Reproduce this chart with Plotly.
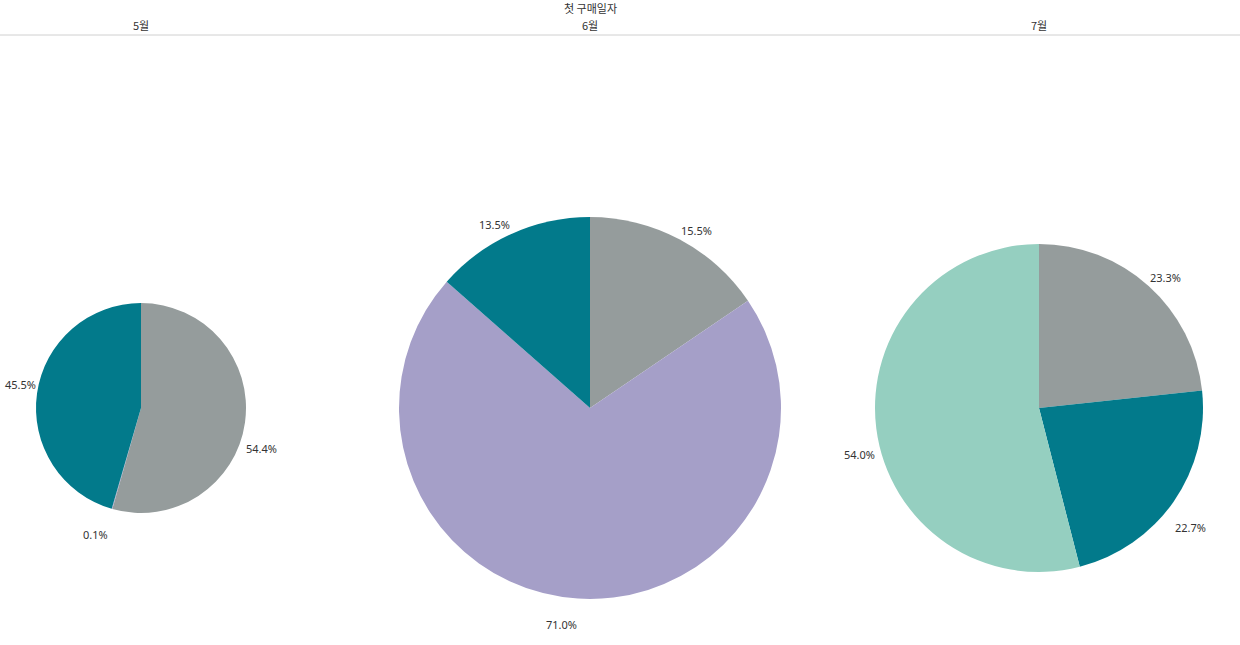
import math
import plotly.graph_objects as go

# ---- data ----
months = ["5월", "6월", "7월"]
header_title = "첫 구매일자"

may_labels = ["A", "B", "C"]
may_values = [54.4, 0.1, 45.5]
may_colors = ["#959c9c", "#a59fc8", "#027a8b"]

jun_labels = ["A", "B", "C"]
jun_values = [15.5, 71.0, 13.5]
jun_colors = ["#959c9c", "#a59fc8", "#027a8b"]

jul_labels = ["A", "B", "C"]
jul_values = [23.3, 22.7, 54.0]
jul_colors = ["#959c9c", "#027a8b", "#95cfc0"]

# ---- layout geometry (pixels) ----
W, H = 1240, 645
# (center x, center y, radius) in pixels for each pie
geoms = [(141, 408, 105), (590, 408, 191), (1039, 408, 164)]

LABEL_FONT = dict(family="Noto Sans, sans-serif", size=11, color="#333333")
HEAD_FONT = dict(family="Noto Sans CJK KR", size=11, color="#333333")


def domain(cx, cy, r):
    return dict(
        x=[(cx - r) / W, (cx + r) / W],
        y=[(H - (cy + r)) / H, (H - (cy - r)) / H],
    )


fig = go.Figure()
annotations = []
for (labels, values, colors), (cx, cy, r) in zip(
    [(may_labels, may_values, may_colors),
     (jun_labels, jun_values, jun_colors),
     (jul_labels, jul_values, jul_colors)],
    geoms,
):
    fig.add_trace(go.Pie(
        labels=labels,
        values=values,
        marker=dict(colors=colors, line=dict(width=0)),
        sort=False,
        direction="clockwise",
        rotation=0,
        textinfo="none",
        hoverinfo="none",
        showlegend=False,
        domain=domain(cx, cy, r),
    ))
    # outside labels at each slice's mid-angle (clockwise from 12 o'clock)
    total = sum(values)
    cum = 0.0
    for v in values:
        theta = 2 * math.pi * (cum + v / 2) / total
        cum += v
        px = cx + r * math.sin(theta)
        py = cy - r * math.cos(theta)
        right = math.sin(theta) >= 0
        upper = math.cos(theta) > 0
        annotations.append(dict(
            x=px / W, y=1 - py / H, xref="paper", yref="paper",
            text=f"{v:.1f}%", showarrow=False, font=LABEL_FONT,
            xanchor="center", yanchor="middle",
            xshift=17 if right else -17,
            yshift=9 if upper else -26,
        ))

annotations.append(dict(
    x=590 / W, y=1 - 8 / H, xref="paper", yref="paper",
    text=header_title, showarrow=False, font=HEAD_FONT,
    xanchor="center", yanchor="middle",
))
for m, g in zip(months, geoms):
    annotations.append(dict(
        x=g[0] / W, y=1 - 25 / H, xref="paper", yref="paper",
        text=m, showarrow=False, font=HEAD_FONT,
        xanchor="center", yanchor="middle",
    ))

fig.update_layout(
    width=W, height=H,
    margin=dict(l=0, r=0, t=0, b=0),
    paper_bgcolor="white",
    plot_bgcolor="white",
    annotations=annotations,
    shapes=[dict(type="line", xref="paper", yref="paper",
                 x0=0, x1=1, y0=1 - 35 / H, y1=1 - 35 / H,
                 line=dict(color="#d0d0d0", width=1))],
)

fig.write_html(
    "out.html",
    config={"displayModeBar": False},
    post_script="document.body.style.margin='0';document.body.style.overflow='hidden';",
)
